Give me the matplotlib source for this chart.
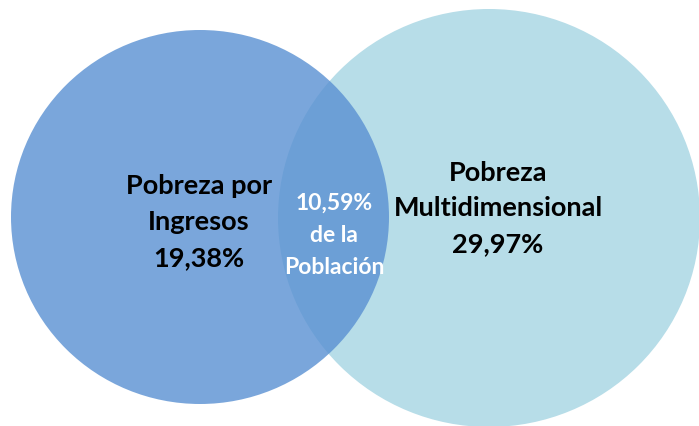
import matplotlib
matplotlib.use('Agg')
import matplotlib.pyplot as plt
from matplotlib.patches import Ellipse

plt.rcParams['font.family'] = ['Lato', 'DejaVu Sans']

# set labels and their values
left_label = ['Pobreza por', 'Ingresos', '19,38%']
right_label = ['Pobreza', 'Multidimensional', '29,97%']
mid_label = ['10,59%', 'de la', 'Población']

fig = plt.figure(figsize=(6.99, 4.26), dpi=100)
ax = fig.add_axes([0, 0, 1, 1])
ax.set_xlim(0, 699)
ax.set_ylim(426, 0)
ax.axis('off')

# right circle first, left one on top with transparency -> overlap darker
ax.add_patch(Ellipse((489, 218), 422, 418, color='#b7dde8', lw=0))
ax.add_patch(Ellipse((200, 217), 378, 374, color='#5990d2', alpha=0.8, lw=0))

for i, t in enumerate(left_label):
    ax.text(199, 186 + i * 36, t, ha='center', va='center', fontsize=19.5,
            fontweight='bold', color='black')
for i, t in enumerate(right_label):
    ax.text(498, 173 + i * 35.5, t, ha='center', va='center', fontsize=19.5,
            fontweight='bold', color='black')
for i, t in enumerate(mid_label):
    ax.text(334, 203 + i * 32.5, t, ha='center', va='center', fontsize=16.5,
            fontweight='bold', color='white')

fig.savefig('out.png', dpi=100)
